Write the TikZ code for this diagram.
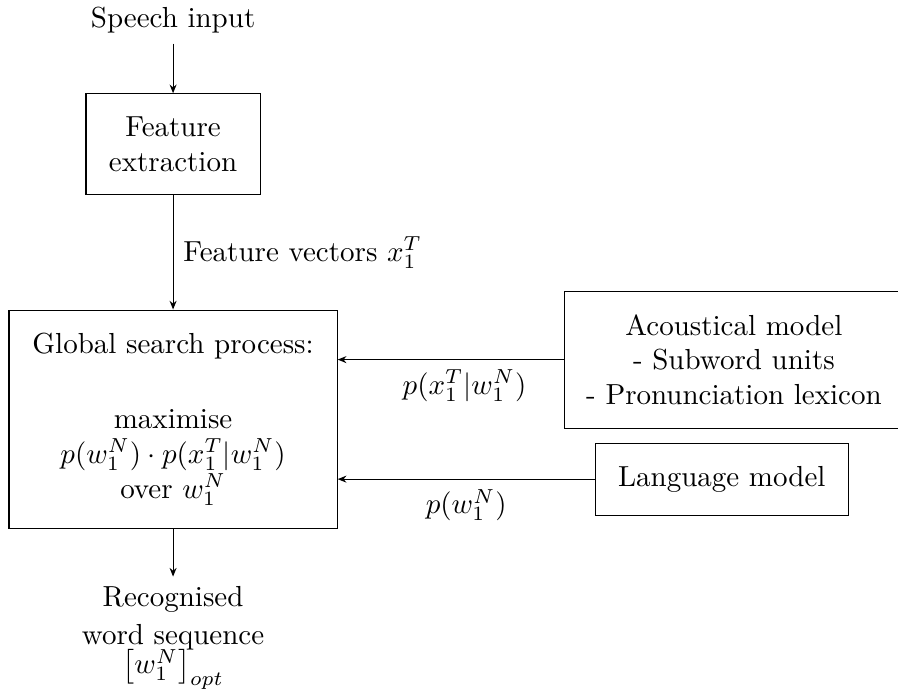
\documentclass[tikz,border=0pt]{standalone}
\usepackage{tikz}
\usetikzlibrary{arrows.meta,positioning}

\begin{document}
\begin{tikzpicture}[
  node distance=1.382cm,
  block/.style={draw,align=center,inner sep=3.33pt},
  link/.style={-{Stealth[length=3pt,width=2.4pt]},line width=.4pt}]
\useasboundingbox (0,0) rectangle (10.88,-8.37);
\node[block,minimum width=3.975cm,minimum height=2.642cm] (search) at (2.097,-5.078)
  {Global search process:\\[14pt] maximise\\ $p(w_1^N)\cdot p(x_1^T|w_1^N)$\\ over $w_1^N$};
\node[block,minimum width=2.109cm,minimum height=1.224cm,above=of search] (feat) {Feature\\extraction};
\node[above=.6cm of feat] (speech) {Speech input};
\node[below=.58cm of search,align=center] (result) {Recognised\\[1pt]word sequence\\[-2pt]$\left[w_1^N\right]_{opt}$};
\node[block,minimum width=4.1cm,minimum height=1.66cm] (acoustic) at (8.892,-4.357)
  {Acoustical model\\- Subword units\\- Pronunciation lexicon};
\node[block,minimum width=3.066cm,minimum height=.873cm] (lang) at (8.745,-5.805) {Language model};
\draw[link] (speech)--(feat);
\draw[link] (feat)--node[right]{Feature vectors $x_1^T$}(search);
\draw[link] (acoustic.west)--node[below,pos=.44]{$p(x_1^T|w_1^N)$}(acoustic.west -| search.east);
\draw[link] (lang.west)--node[below]{$p(w_1^N)$}(lang.west -| search.east);
\draw[link] (search)--(result);
\end{tikzpicture}
\end{document}
